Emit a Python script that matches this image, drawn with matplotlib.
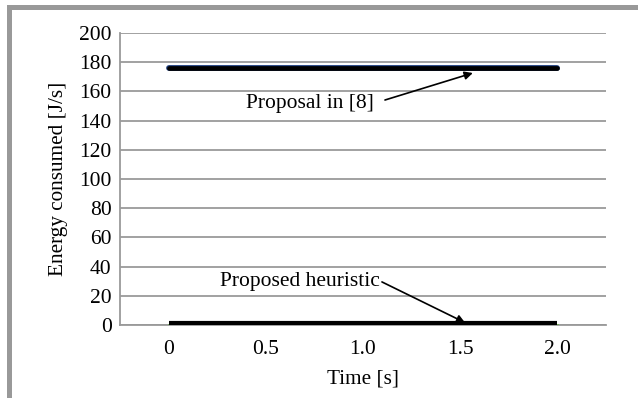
import matplotlib
matplotlib.use("Agg")
import matplotlib.pyplot as plt
from matplotlib.patches import Rectangle

categories = ["0", "0.5", "1.0", "1.5", "2.0"]
proposal8 = [176, 176, 176, 176, 176]
heuristic = [1.2, 1.2, 1.2, 1.2, 1.2]
heuristic_base = [0, 0, 0, 0, 0]
yticks = [0, 20, 40, 60, 80, 100, 120, 140, 160, 180, 200]

plt.rcParams['font.family'] = ['Liberation Serif', 'DejaVu Serif']
FS = 15.5
FS_LAB = 15.3

fig = plt.figure(figsize=(6.38, 3.98), dpi=100)
fig.patch.set_facecolor('white')
ax = fig.add_axes([120/638, 1-325/398, (606-120)/638, (325-33)/398])

x = list(range(len(categories)))
ax.plot(x, proposal8, color='#1f3f7f', lw=4.2, solid_capstyle='round', zorder=3)
ax.plot(x, proposal8, color='black', lw=3.4, solid_capstyle='round', zorder=4)
ax.plot(x, heuristic_base, color='#6ab04c', lw=2.0, zorder=3)
ax.plot(x, heuristic, color='black', lw=3.0, solid_capstyle='butt', zorder=4)

ax.set_xlim(-0.5, len(categories) - 0.5)
ax.set_ylim(0, 200)
ax.set_yticks(yticks)
ax.set_xticks(x)
ax.set_xticklabels(categories)
ax.tick_params(axis='y', length=0, labelsize=FS, pad=6)
ax.tick_params(axis='x', length=0, labelsize=FS, pad=10.5)
ax.grid(axis='y', color='#9a9a9a', lw=1.3)
ax.set_axisbelow(True)
for s in ['top', 'right']:
    ax.spines[s].set_visible(False)
for s in ['left', 'bottom']:
    ax.spines[s].set_color('#9a9a9a')
    ax.spines[s].set_linewidth(1.3)

ax.set_xlabel("Time [s]", fontsize=FS_LAB, labelpad=8)
ax.set_ylabel("Energy consumed [J/s]", fontsize=FS_LAB, labelpad=8)

arrow = dict(arrowstyle='-|>', color='black', lw=1.2, mutation_scale=12,
             shrinkA=0, shrinkB=0)
ax.text(1.45, 151.4, "Proposal in [8]", ha='center', va='center', fontsize=FS)
ax.annotate("", xy=(3.13, 172.6), xytext=(2.226, 154.1), arrowprops=arrow)
ax.text(1.35, 29.5, "Proposed heuristic", ha='center', va='center', fontsize=FS)
ax.annotate("", xy=(3.05, 1.6), xytext=(2.195, 29.5), arrowprops=arrow)

# gray frame (top and left)
fig.patches.append(Rectangle((7/638, 1-10/398), 1, 5/398, transform=fig.transFigure,
                             facecolor='#999999', edgecolor='none', zorder=0))
fig.patches.append(Rectangle((7/638, 0), 5/638, 1-5/398, transform=fig.transFigure,
                             facecolor='#999999', edgecolor='none', zorder=0))

fig.savefig("out.png", dpi=100)
